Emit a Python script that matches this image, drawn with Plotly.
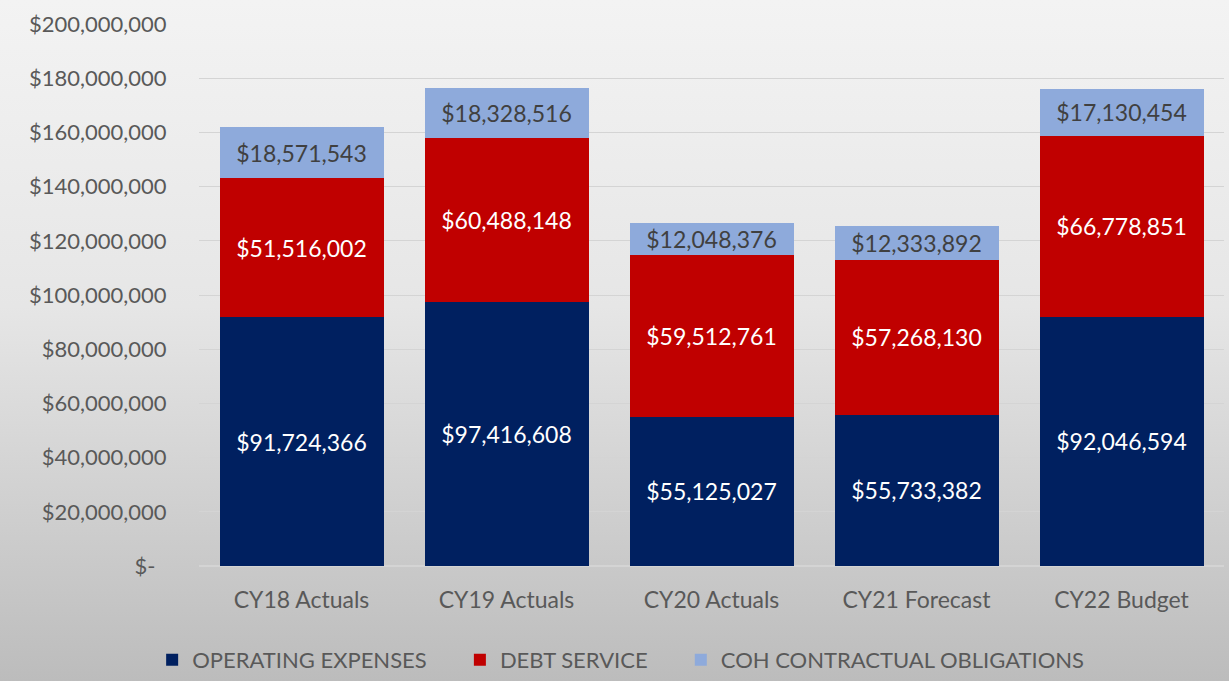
import base64
import plotly.graph_objects as go

categories = ["CY18 Actuals", "CY19 Actuals", "CY20 Actuals", "CY21 Forecast", "CY22 Budget"]
operating = [91724366, 97416608, 55125027, 55733382, 92046594]
debt = [51516002, 60488148, 59512761, 57268130, 66778851]
coh = [18571543, 18328516, 12048376, 12333892, 17130454]
series_names = ["OPERATING EXPENSES", "DEBT SERVICE", "COH CONTRACTUAL OBLIGATIONS"]
tick_values = [0, 20000000, 40000000, 60000000, 80000000, 100000000,
               120000000, 140000000, 160000000, 180000000, 200000000]

def money(v):
    return "$-\u00a0\u00a0" if v == 0 else "${:,.0f}".format(v)

FONT = "Lato, Carlito, Calibri, sans-serif"
GRAY = "#595959"
PAD = "\u00a0" * 5

fig = go.Figure()
colors = ["#002060", "#c00000", "#8eaadb"]
text_colors = ["#ffffff", "#ffffff", "#404040"]
for i, (name, vals, c, tc) in enumerate(zip(series_names, [operating, debt, coh], colors, text_colors)):
    fig.add_trace(go.Bar(
        x=categories, y=vals, name=name + (PAD if i < 2 else ""),
        marker=dict(color=c, line=dict(width=0)),
        text=["${:,.0f}".format(v) for v in vals],
        textposition="inside", insidetextanchor="middle",
        textfont=dict(color=tc, size=23, family=FONT),
        constraintext="none",
    ))

svg = ('<svg xmlns="http://www.w3.org/2000/svg" width="100" height="100" preserveAspectRatio="none">'
       '<defs><linearGradient id="g" x1="0" y1="0" x2="0" y2="1">'
       '<stop offset="0" stop-color="#f3f3f3"/><stop offset="0.45" stop-color="#e6e6e6"/>'
       '<stop offset="1" stop-color="#bcbcbc"/></linearGradient></defs>'
       '<rect width="100" height="100" fill="url(#g)"/></svg>')
src = "data:image/svg+xml;base64," + base64.b64encode(svg.encode()).decode()

W, H = 1229, 681
ml, mr, mt, mb = 199, 5, 24, 115
pw, ph = W - ml - mr, H - mt - mb
fig.add_layout_image(dict(
    source=src, xref="paper", yref="paper",
    x=-ml / pw, y=1 + mt / ph, sizex=W / pw, sizey=H / ph,
    xanchor="left", yanchor="top", sizing="stretch", layer="below",
))

fig.update_layout(
    width=W, height=H,
    barmode="stack", bargap=0.2,
    margin=dict(l=ml, r=mr, t=mt, b=mb),
    paper_bgcolor="#e0e0e0", plot_bgcolor="rgba(0,0,0,0)",
    font=dict(family=FONT, color=GRAY, size=22),
    uniformtext=dict(minsize=23, mode="show"),
    showlegend=True,
    legend=dict(orientation="h", xref="container", yref="container",
                x=0.505, xanchor="center", y=(681 - 660) / 681, yanchor="middle",
                font=dict(size=22, color=GRAY, family=FONT), bgcolor="rgba(0,0,0,0)",
                itemsizing="constant", traceorder="normal"),
    xaxis=dict(showgrid=False, showline=False, ticks="outside", ticklen=13,
               tickcolor="rgba(0,0,0,0)", tickfont=dict(size=23, color=GRAY)),
    yaxis=dict(range=[0, 200000000], tickvals=tick_values,
               ticktext=[money(v) for v in tick_values],
               gridcolor="#d4d4d4", gridwidth=1, zeroline=True, zerolinecolor="#d4d4d4",
               showline=False, ticks="outside", ticklen=27, tickcolor="rgba(0,0,0,0)",
               tickfont=dict(size=22, color=GRAY)),
)
fig.write_html("out.html", config={"displayModeBar": False},
               post_script="document.body.style.margin='0';")
